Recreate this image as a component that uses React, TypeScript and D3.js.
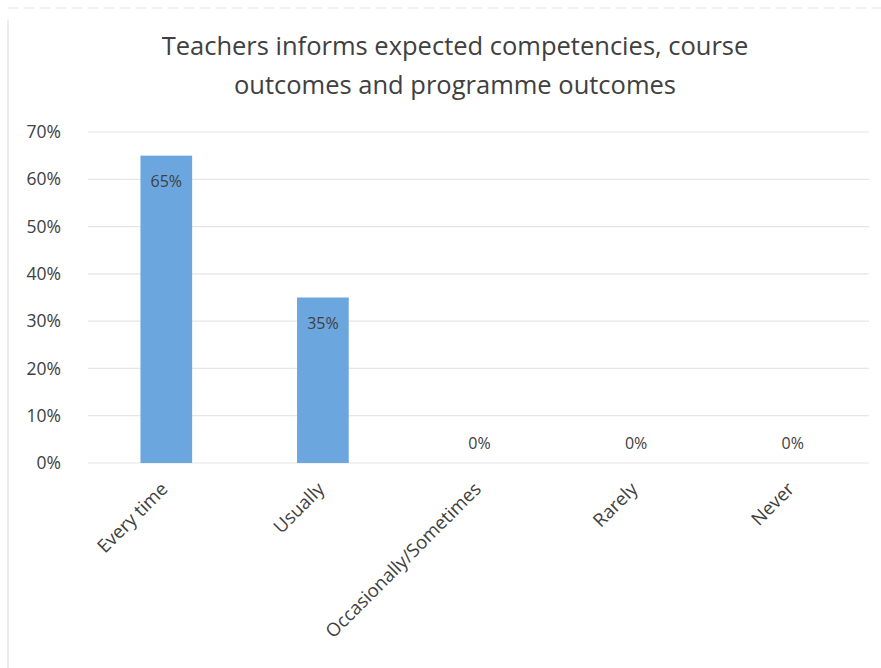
import React, { useEffect, useRef } from "react";
import * as d3 from "d3";

const categories = ["Every time", "Usually", "Occasionally/Sometimes", "Rarely", "Never"];
const values = [0.65, 0.35, 0, 0, 0];
const yTicks = [0, 0.1, 0.2, 0.3, 0.4, 0.5, 0.6, 0.7];
const titleLines = ["Teachers informs expected competencies, course", "outcomes and programme outcomes"];

const App = () => {
  const ref = useRef<SVGSVGElement>(null);

  useEffect(() => {
    const width = 881;
    const height = 668;
    const margin = { top: 132, left: 88, right: 10, bottom: 205 };
    const font = "'Open Sans', sans-serif";

    const svg = d3.select(ref.current);
    svg.selectAll("*").remove();

    // frame
    svg.append("rect").attr("width", width).attr("height", height).attr("fill", "#fff");
    svg.append("line").attr("x1", 8).attr("x2", 8).attr("y1", 20).attr("y2", height)
      .attr("stroke", "#d9d9d9");
    svg.append("line").attr("x1", 8).attr("x2", width).attr("y1", 8).attr("y2", 8)
      .attr("stroke", "#e3e3e3").attr("stroke-dasharray", "10,6");

    const x = d3.scaleBand()
      .domain(categories)
      .range([margin.left, width - margin.right])
      .paddingInner(0.67)
      .paddingOuter(0.335);

    const y = d3.scaleLinear().domain([0, 0.7]).range([height - margin.bottom, margin.top]);

    // title
    svg.append("g").selectAll("text").data(titleLines).enter().append("text")
      .attr("x", 455)
      .attr("y", (_, i) => 55 + i * 39)
      .attr("text-anchor", "middle")
      .style("font-family", font)
      .style("font-size", "25.5px")
      .attr("fill", "#404040")
      .text((d) => d);

    // grid
    svg.append("g").selectAll("line").data(yTicks).enter().append("line")
      .attr("x1", margin.left).attr("x2", width - 12)
      .attr("y1", (d) => y(d)).attr("y2", (d) => y(d))
      .attr("stroke", "#e6e6e6").attr("stroke-width", 1.2);

    // y axis labels
    const yAxis = svg.append("g")
      .attr("transform", `translate(${margin.left - 24},0)`)
      .call(d3.axisLeft(y).tickValues(yTicks).tickFormat(d3.format(".0%")).tickSize(0));
    yAxis.select(".domain").remove();
    yAxis.selectAll("text")
      .style("font-family", font)
      .style("font-size", "17.5px")
      .attr("fill", "#404040");

    // bars
    svg.append("g").selectAll("rect").data(values).enter().append("rect")
      .attr("x", (_, i) => x(categories[i])!)
      .attr("y", (d) => y(d))
      .attr("width", x.bandwidth())
      .attr("height", (d) => y(0) - y(d))
      .attr("fill", "#6ca6de");

    // value labels
    svg.append("g").selectAll("text").data(values).enter().append("text")
      .attr("x", (_, i) => x(categories[i])! + x.bandwidth() / 2)
      .attr("y", (d) => (d > 0 ? y(d) + 31 : y(0) - 14))
      .attr("text-anchor", "middle")
      .style("font-family", font)
      .style("font-size", "16px")
      .attr("fill", "#404040")
      .text((d) => d3.format(".0%")(d));

    // x axis labels
    const xAxis = svg.append("g")
      .attr("transform", `translate(-8,${y(0) + 14})`)
      .call(d3.axisBottom(x).tickSize(0));
    xAxis.select(".domain").remove();
    xAxis.selectAll("text")
      .attr("transform", "rotate(-45)")
      .attr("dy", "0.75em")
      .attr("dx", "-0.1em")
      .style("text-anchor", "end")
      .style("font-family", font)
      .style("font-size", "18.5px")
      .attr("fill", "#404040");
  }, []);

  return <svg ref={ref} width={881} height={668} style={{ position: "absolute", left: 0, top: 0 }} />;
};

export default App;
